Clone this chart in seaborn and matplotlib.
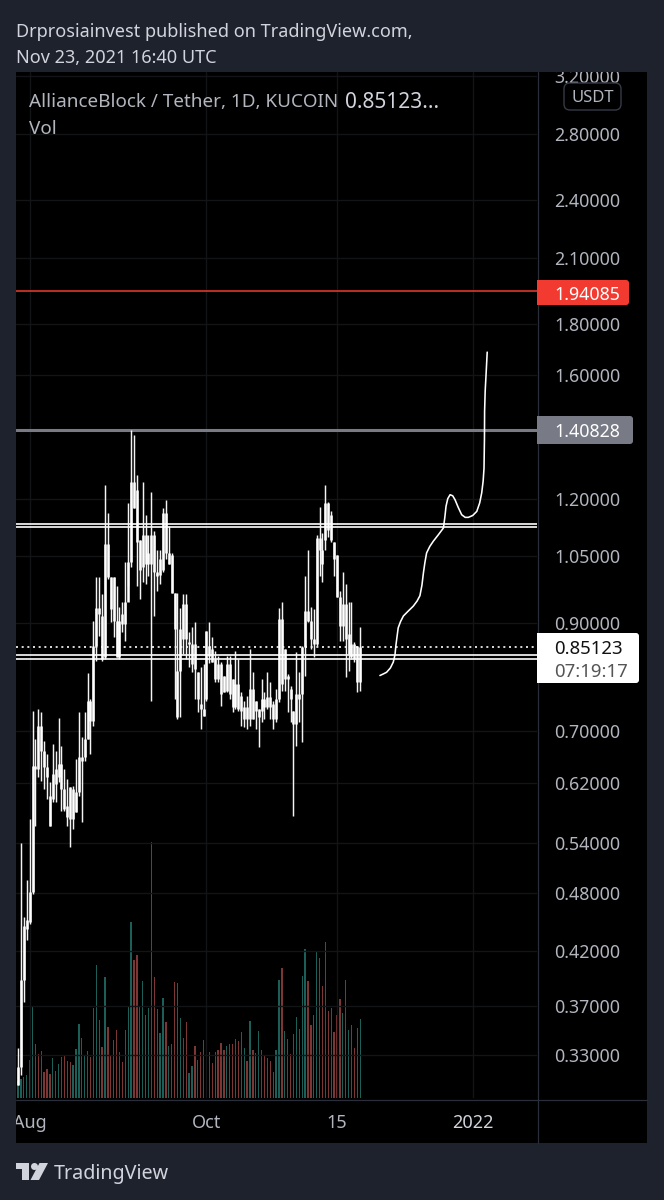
#!/usr/bin/env python3
import matplotlib
matplotlib.use("Agg")
import matplotlib.pyplot as plt
import numpy as np
import pandas as pd
import seaborn as sns
from matplotlib.patches import FancyBboxPatch, Rectangle, Polygon, Circle

# daily candles, first one is Jul 28 2021 (day 0)
high = [.335,.540,.455,.495,.571,.733,.687,.736,.732,.684,.664,.622,.679,.668,.721,.676,.641,.626,.615,.616,
        .656,.732,.690,.732,.800,.754,.903,1.000,1.000,.961,1.239,1.162,1.000,1.000,.979,.934,.943,1.035,1.189,1.408,
        1.392,1.268,1.091,1.248,1.156,1.104,1.219,1.112,1.066,1.066,1.175,1.197,1.125,1.059,.965,.965,.932,.961,.961,.880,
        .890,.901,.802,.812,.817,.882,.901,.870,.842,.833,.821,.795,.833,.833,.789,.842,.827,.766,.750,.759,
        .846,.802,.750,.736,.789,.766,.802,.784,.750,.771,.932,.943,.846,.799,.777,.733,.840,.802,.852,1.002,
        1.066,.934,.928,1.104,1.178,1.109,1.239,1.192,1.165,1.086,1.054,.968,1.013,.984,.943,.945,.860,.852,.890]
low = [.3075,.315,.373,.431,.447,.479,.562,.629,.623,.612,.598,.562,.594,.594,.622,.581,.581,.562,.535,.558,
       .580,.602,.567,.653,.687,.664,.708,.823,.872,.823,.827,.995,.901,.870,.831,.827,.880,.862,.979,1.023,
       1.175,.979,.950,.990,.984,1.002,.750,.913,.968,.984,1.013,1.042,1.030,.965,.754,.720,.723,.836,.827,.812,
       .802,.754,.732,.703,.725,.750,.819,.821,.784,.784,.742,.766,.766,.754,.732,.736,.733,.708,.706,.703,
       .708,.720,.703,.674,.715,.720,.736,.720,.703,.715,.749,.768,.768,.732,.715,.574,.676,.715,.682,.795,
       .901,.846,.831,.852,1.002,.990,1.066,1.099,1.084,1.002,.954,.862,.862,.793,.804,.827,.821,.766,.768]
open_ = [.3075,.321,.393,.442,.4495,.482,.645,.708,.708,.668,.644,.602,.598,.619,.629,.648,.612,.588,.615,.571,
         .580,.608,.659,.659,.687,.750,.716,.852,.932,.913,.831,1.079,1.000,1.000,.903,.831,.918,.897,.943,1.035,
         1.248,1.225,1.091,1.023,1.104,1.030,1.030,1.104,1.011,1.006,1.018,1.162,1.030,1.054,.965,.804,.804,.866,.939,.856,
         .817,.856,.802,.745,.725,.754,.833,.846,.827,.817,.817,.795,.768,.817,.789,.740,.780,.759,.720,.740,
         .720,.771,.750,.723,.733,.754,.740,.757,.745,.720,.754,.907,.789,.795,.771,.733,.711,.762,.762,.850,
         .924,.903,.866,.856,1.096,1.066,1.091,1.189,1.156,1.084,1.052,.954,.893,.939,.836,.856,.856,.852,.784]
close = [.321,.393,.445,.4515,.482,.645,.641,.641,.668,.644,.629,.562,.633,.641,.648,.612,.584,.573,.571,.612,
         .608,.659,.653,.687,.750,.716,.852,.932,.918,.827,1.079,1.000,.928,.903,.831,.903,.897,.943,1.035,1.248,
         1.175,1.086,1.018,1.104,1.030,1.059,1.104,1.011,1.002,1.042,1.162,1.059,1.059,.965,.886,.723,.886,.939,.866,.860,
         .856,.808,.754,.736,.736,.882,.852,.821,.789,.789,.762,.766,.817,.762,.740,.780,.736,.733,.740,.720,
         .771,.720,.733,.736,.754,.740,.757,.740,.720,.754,.907,.780,.846,.789,.754,.711,.762,.754,.850,.924,
         .903,.866,.856,1.096,1.066,1.030,1.189,1.117,1.091,1.042,.954,.893,.939,.866,.876,.831,.827,.784,.85123]

# volume in millions
volume = [1.7,1.9,2.1,2.3,3.8,9.2,5.4,4.4,4.7,2.6,2.9,2.4,4.0,2.7,3.4,4.1,4.3,3.7,3.6,3.3,
          4.9,7.4,6.0,4.3,4.7,4.1,9.0,13.3,7.8,5.1,12.1,7.1,4.3,5.8,6.8,4.6,3.6,6.8,9.2,17.6,
          13.8,14.3,9.1,11.7,8.3,9.0,25.6,12.1,8.9,6.5,10.0,7.6,5.2,5.4,11.6,11.5,8.0,6.0,7.6,2.5,
          3.2,5.2,3.8,4.6,5.8,6.1,4.6,3.5,4.6,4.8,5.5,4.8,5.2,5.4,5.4,5.9,5.7,6.6,5.0,3.7,
          7.7,4.8,4.5,6.7,4.8,4.2,4.0,3.7,2.6,4.8,11.8,13.0,6.7,5.9,4.4,6.4,8.1,6.9,12.2,14.9,
          11.7,7.3,8.3,14.7,14.0,11.2,15.6,8.7,9.0,6.6,8.3,9.9,8.5,11.8,6.8,7.3,5.0,7.0,7.9]

# hand drawn projection
sketch_day = [124.8,126.0,127.1,128.4,129.4,130.0,130.3,130.7,131.1,131.9,132.9,134.5,136.3,137.6,138.6,139.3,139.8,140.3,140.9,
              142.0,143.2,145.0,146.7,147.2,147.6,148.2,149.0,149.9,150.7,151.8,153.0,154.2,155.3,156.8,158.2,159.2,159.9,160.4,160.7,160.85,160.9,161.1,161.4,161.8]
sketch_price = [.796,.799,.802,.810,.821,.835,.853,.871,.889,.902,.914,.924,.935,.946,.958,.982,1.010,1.034,1.058,
                1.074,1.087,1.104,1.121,1.150,1.179,1.200,1.211,1.208,1.197,1.176,1.156,1.149,1.149,1.154,1.165,1.188,1.216,1.250,1.288,1.380,1.47,1.54,1.60,1.686]

price_ticks = [3.2, 2.8, 2.4, 2.1, 1.8, 1.6, 1.2, 1.05, 0.9, 0.7, 0.62, 0.54, 0.48, 0.42, 0.37, 0.33]
price_labels = ["3.20000", "2.80000", "2.40000", "2.10000", "1.80000", "1.60000", "1.20000", "1.05000",
                "0.90000", "0.70000", "0.62000", "0.54000", "0.48000", "0.42000", "0.37000", "0.33000"]
time_ticks = [4, 65, 110, 157]
time_labels = ["Aug", "Oct", "15", "2022"]

red_level = 1.94085
gray_level = 1.40828
last_price = 0.85123
upper_band = [1.131, 1.123]
lower_band = [0.834, 0.827]

BG = "#1e222d"
SEP = "#2a2e39"
GRID = "#131416"
TXT = "#b2b5be"
UP = "#1c5f59"
DOWN = "#7c3633"

W, H = 664, 1200


def box(left, top, right, bottom):
    """pixel rectangle (y from top) to figure fractions"""
    return [left / W, 1 - bottom / H, (right - left) / W, (bottom - top) / H]


sns.set_theme(style="dark")
plt.rcParams["font.family"] = ["Noto Sans", "DejaVu Sans"]

fig = plt.figure(figsize=(W / 100, H / 100), dpi=100, facecolor=BG)

# background and separators
back = fig.add_axes([0, 0, 1, 1], zorder=0)
back.set_xlim(0, W)
back.set_ylim(H, 0)
back.axis("off")
back.add_patch(Rectangle((16, 72), 631, 1071, fc="black", ec="none"))
back.plot([538, 538], [72, 1143], color=SEP, lw=0.9)
back.plot([16, 647], [1099.5, 1099.5], color=SEP, lw=0.9)

df = pd.DataFrame({"open": open_, "high": high, "low": low, "close": close, "volume": volume})
df["day"] = np.arange(len(df))
df["dir"] = np.where(df["close"] >= df["open"], "up", "down")

xlim = (-0.69, 178.97)
ylim = (0.2986, 3.23)

ax = fig.add_axes(box(16, 72, 537, 1098), zorder=2)
ax_vol = ax.twinx()
ax_vol.set_zorder(1)
ax.set_zorder(2)
ax.patch.set_visible(False)
ax_vol.patch.set_visible(False)

sns.barplot(data=df, x="day", y="volume", hue="dir", hue_order=["up", "down"], palette={"up": UP, "down": DOWN},
            native_scale=True, dodge=False, width=0.45, saturation=1, legend=False, linewidth=0, ax=ax_vol, zorder=1)
ax_vol.set_ylim(0, 102.6)
ax_vol.set_xlabel("")
ax_vol.set_ylabel("")
ax_vol.set_yticks([])
ax_vol.tick_params(length=0, labelbottom=False)
for s in ax_vol.spines.values():
    s.set_visible(False)

ax.set_yscale("log")
ax.set_xlim(*xlim)
ax.set_ylim(*ylim)
ax.set_yticks(price_ticks)
ax.yaxis.set_minor_locator(matplotlib.ticker.NullLocator())
ax.set_xticks(time_ticks)
ax.tick_params(length=0, labelleft=False, labelbottom=False)
ax.grid(True, color=GRID, lw=1.0, zorder=0)
ax.set_axisbelow(True)
for s in ax.spines.values():
    s.set_visible(False)

# horizontal levels
ax.axhline(red_level, color="#f23a30", lw=1.1, zorder=2)
ax.axhline(gray_level, color="#787b86", lw=2.2, zorder=2)
for lvl in upper_band + lower_band:
    ax.axhline(lvl, color="white", lw=1.2, zorder=2)
ax.axhline(last_price, color="white", lw=1.2, ls=(0, (1.2, 2.2)), zorder=2)

# candles are all white on this chart
body_low = df[["open", "close"]].min(axis=1)
body_high = df[["open", "close"]].max(axis=1)
ax.vlines(df["day"], df["low"], df["high"], color="#f4f4f4", lw=1.05, zorder=3)
ax.vlines(df["day"], body_low, body_high, color="white", lw=1.85, zorder=3)

sketch = pd.DataFrame({"day": sketch_day, "price": sketch_price})
sns.lineplot(data=sketch, x="day", y="price", estimator=None, sort=False, color="white", lw=1.15, ax=ax, zorder=4)
ax.set_xlim(*xlim)
ax.set_ylim(*ylim)
ax.set_xlabel("")
ax.set_ylabel("")

# price scale
ax_price = fig.add_axes(box(537, 72, 647, 1098), zorder=3)
ax_price.set_yscale("log")
ax_price.set_ylim(*ylim)
ax_price.set_xlim(0, 110)
ax_price.axis("off")
for p, lab in zip(price_ticks, price_labels):
    ax_price.text(17, p, lab, color=TXT, fontsize=12.8, va="center_baseline", ha="left", clip_on=True)

# time scale
ax_time = fig.add_axes(box(16, 1100, 537, 1143), zorder=3)
ax_time.set_xlim(*xlim)
ax_time.set_ylim(0, 1)
ax_time.axis("off")
for d, lab in zip(time_ticks, time_labels):
    ax_time.text(d, 0.5, lab, color="#d1d4dc" if lab == "2022" else TXT, fontsize=13,
                 fontweight="medium" if lab == "2022" else "normal", ha="center", va="center_baseline", clip_on=True)

# labels and decorations on top
top = fig.add_axes([0, 0, 1, 1], zorder=4)
top.set_xlim(0, W)
top.set_ylim(H, 0)
top.axis("off")
top.patch.set_visible(False)


def badge(x0, y0, x1, y1, color):
    top.add_patch(Rectangle((x0, y0), 6, y1 - y0, fc=color, ec="none"))
    top.add_patch(FancyBboxPatch((x0 + 3, y0 + 3), x1 - x0 - 6, y1 - y0 - 6, boxstyle="round,pad=3,rounding_size=3",
                                 fc=color, ec="none"))


badge(537, 280, 629, 305, "#f23a30")
top.text(554, 292.5, "1.94085", color="white", fontsize=12.8, va="center_baseline")
badge(537, 416, 633, 444, "#787b86")
top.text(554, 430, "1.40828", color="white", fontsize=12.8, va="center_baseline")
badge(537, 633, 639, 683, "white")
top.text(554, 647, "0.85123", color="#111111", fontsize=13.4, va="center_baseline")
top.text(554, 670, "07:19:17", color="#555555", fontsize=13.4, va="center_baseline")

top.add_patch(FancyBboxPatch((567, 86), 51, 21, boxstyle="round,pad=3,rounding_size=6", fc="black", ec="#363a45", lw=1))
top.text(592.5, 96.5, "USDT", color=TXT, fontsize=12, ha="center", va="center_baseline")

top.text(16, 30, "Drprosiainvest published on TradingView.com,", color="#d1d4dc", fontsize=13, va="center_baseline")
top.text(16, 56, "Nov 23, 2021 16:40 UTC", color="#d1d4dc", fontsize=13, va="center_baseline")
top.text(29, 100, "AllianceBlock / Tether, 1D, KUCOIN", color=TXT, fontsize=13.6, va="center_baseline")
top.text(345, 100, "0.85123...", color="#d1d4dc", fontsize=15, va="center_baseline")
top.text(29, 127, "Vol", color=TXT, fontsize=13.6, va="center_baseline")

# TradingView logo
logo = "#d1d4dc"
top.add_patch(Polygon([(16, 1163), (29, 1163), (29, 1180), (22, 1180), (22, 1169), (16, 1169)], fc=logo, ec="none"))
top.add_patch(Circle((34.5, 1166.5), 3.5, fc=logo, ec="none"))
top.add_patch(Polygon([(39.5, 1163), (48, 1163), (39, 1180), (30.5, 1180)], fc=logo, ec="none"))
top.text(54, 1172, "TradingView", color=logo, fontsize=14.2, va="center_baseline")

plt.savefig("out.png", dpi=100, facecolor=BG)
